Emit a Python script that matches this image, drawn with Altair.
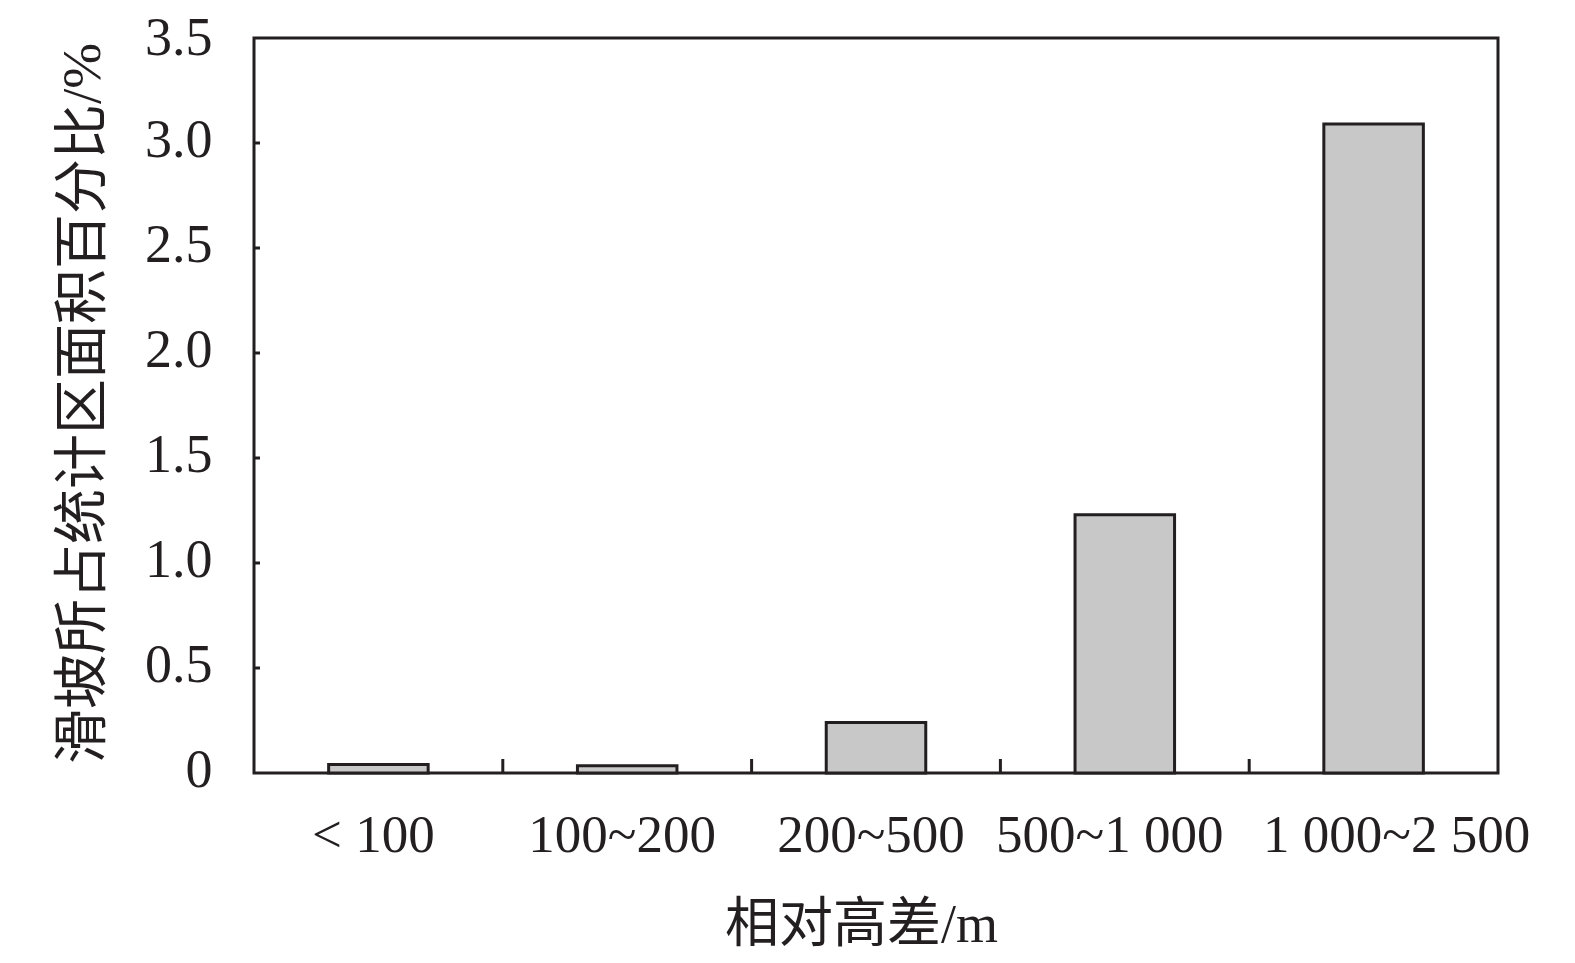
import altair as alt
import pandas as pd

categories = ["< 100", "100~200", "200~500", "500~1 000", "1 000~2 500"]
values = [0.04, 0.035, 0.24, 1.23, 3.09]
boundary_ticks = ["100~200", "200~500", "500~1 000", "1 000~2 500"]
y_tick_values = [0.5, 1.0, 1.5, 2.0, 2.5, 3.0]
y_label_values = [0, 0.5, 1.0, 1.5, 2.0, 2.5, 3.0, 3.5]

df = pd.DataFrame({"cat": categories, "val": values})
df_xt = pd.DataFrame({"cat": boundary_ticks})
df_yt = pd.DataFrame({"v": y_tick_values})

FONT = "Liberation Serif, Noto Sans CJK SC"
INK = "#231f20"
W, H = 1244, 735

xscale = alt.Scale(domain=categories, paddingInner=0, paddingOuter=0)
yscale = alt.Scale(domain=[0, 3.5], nice=False)

label_shift = alt.ExprRef(
    "datum.value == '500~1 000' ? -15 : (datum.value == '1 000~2 500' ? 23 : -5)"
)
ylabel_shift = alt.ExprRef("datum.value >= 3.5 ? 0 : -3")

bars = alt.Chart(df).mark_bar(
    width=alt.RelativeBandSize(0.4), fill="#c8c8c8", stroke=INK, strokeWidth=3
).encode(
    x=alt.X("cat:N", scale=xscale, sort=categories,
            axis=alt.Axis(title="相对高差/m", labelAngle=0, ticks=False, domain=False,
                          labelFont=FONT, labelFontSize=53, labelColor=INK, labelLimit=0,
                          labelBaseline="middle", labelPadding=62, labelOffset=label_shift,
                          titleFont=FONT, titleFontSize=54, titleColor=INK,
                          titleFontWeight="normal", titleX=607, titleY=152,
                          titleAlign="center", titleBaseline="middle")),
    y=alt.Y("val:Q", scale=yscale,
            axis=alt.Axis(title="滑坡所占统计区面积百分比/%", values=y_label_values,
                          ticks=False, domain=False, grid=False,
                          labelExpr="datum.value == 0 ? '0' : format(datum.value, '.1f')",
                          labelFont=FONT, labelFontSize=54, labelColor=INK,
                          labelPadding=42, labelOffset=ylabel_shift,
                          titleFont=FONT, titleFontSize=55, titleColor=INK,
                          titleFontWeight="normal", titleX=-172, titleY=365,
                          titleAngle=-90, titleAlign="center", titleBaseline="middle")),
)

xticks = alt.Chart(df_xt).mark_rule(color=INK, strokeWidth=3).encode(
    x=alt.X("cat:N", scale=xscale, sort=categories, bandPosition=0),
    y=alt.value(H),
    y2=alt.value(H - 14),
)

yticks = alt.Chart(df_yt).mark_rule(color=INK, strokeWidth=3).encode(
    y=alt.Y("v:Q", scale=yscale),
    x=alt.value(0),
    x2=alt.value(6),
)

chart = alt.layer(bars, xticks, yticks).properties(
    width=W, height=H,
    autosize=alt.AutoSizeParams(type="none"),
    padding={"left": 246, "top": 30, "right": 60, "bottom": 190},
).configure(
    background="white"
).configure_view(
    stroke=INK, strokeWidth=3
)

chart.save("out.html", embed_options={"renderer": "svg", "actions": False})
